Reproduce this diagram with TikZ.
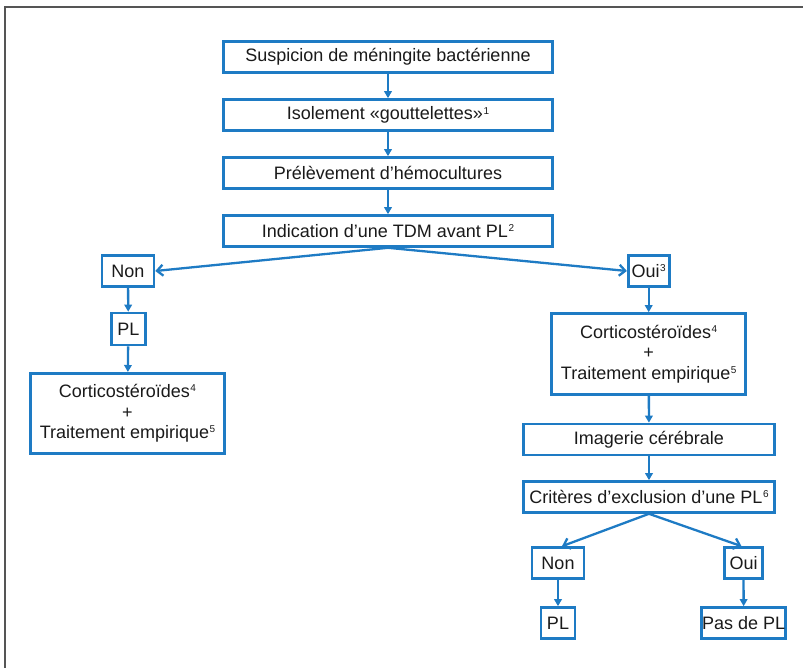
\documentclass[tikz,border=0pt]{standalone}
\usepackage{fontspec}
\setmainfont{Liberation Sans}
\usetikzlibrary{arrows.meta}
\definecolor{fblue}{HTML}{1E7BC4}
\definecolor{ftext}{HTML}{1A1A1A}
\definecolor{fgray}{HTML}{555555}
\newcommand{\sups}[1]{\kern0.5pt\raisebox{5.6pt}{\fontsize{10}{10}\selectfont #1}}
\begin{document}
\begin{tikzpicture}[x=1pt,y=-1pt,
  box/.style={draw=fblue, line width=2.6pt, fill=white, inner sep=0pt, align=center,
              font=\fontsize{18}{20.5}\selectfont, text=ftext},
  arr/.style={draw=fblue, line width=2.3pt, -{Triangle[length=7pt,width=7.5pt]}},
  barb/.style={draw=fblue, line width=2.3pt, -{Straight Barb[length=6pt,width=11pt,line width=2.3pt]}}]
\useasboundingbox (0,0) rectangle (803,668);
\draw[fgray, line width=1.5pt] (5,668) -- (5,7) -- (803,7);

\node[box, minimum width=329pt, minimum height=31pt] (b1) at (388,57) {Suspicion de méningite bactérienne};
\node[box, minimum width=329pt, minimum height=31pt] (b2) at (388,115) {Isolement «gouttelettes»\sups{1}};
\node[box, minimum width=329pt, minimum height=31pt] (b3) at (388,173) {Prélèvement d’hémocultures};
\node[box, minimum width=329pt, minimum height=31pt] (b4) at (388,231) {Indication d’une TDM avant PL\sups{2}};

\node[box, minimum width=52pt, minimum height=31pt] (nonL) at (128,271) {Non};
\node[box, minimum width=41pt, minimum height=31pt] (ouiR) at (648.7,271) {Oui\sups{3}};

\node[box, minimum width=34pt, minimum height=32pt] (plL) at (128.3,329) {PL};
\node[box, minimum width=194pt, minimum height=80pt] (corL) at (127.5,413.3) {Corticostéroïdes\sups{4}\\+\\Traitement empirique\sups{5}};

\node[box, minimum width=194pt, minimum height=81pt] (corR) at (648.7,354) {Corticostéroïdes\sups{4}\\+\\Traitement empirique\sups{5}};
\node[box, minimum width=251pt, minimum height=31pt] (img) at (649,439.5) {Imagerie cérébrale};
\node[box, minimum width=251pt, minimum height=31pt] (crit) at (649,497) {Critères d’exclusion d’une PL\sups{6}};

\node[box, minimum width=52pt, minimum height=31pt] (non2) at (558,563) {Non};
\node[box, minimum width=38pt, minimum height=31pt] (oui2) at (743.5,563) {Oui};
\node[box, minimum width=34pt, minimum height=31pt] (pl2) at (558,623) {PL};
\node[box, minimum width=84pt, minimum height=31pt] (pas) at (743.7,623) {Pas de PL};

\draw[arr] (b1) -- (b2);
\draw[arr] (b2) -- (b3);
\draw[arr] (b3) -- (b4);
\draw[barb] (b4.south) -- (nonL.east);
\draw[barb] (b4.south) -- (ouiR.west);
\draw[arr] (nonL) -- (plL);
\draw[arr] (plL) -- (corL);
\draw[arr] (ouiR) -- (corR);
\draw[arr] (corR) -- (img);
\draw[arr] (img) -- (crit);
\draw[barb] (crit.south) -- ([xshift=4pt]non2.north);
\draw[barb] (crit.south) -- ([xshift=-2pt]oui2.north);
\draw[arr] (non2) -- (pl2);
\draw[arr] (oui2) -- (pas);
\end{tikzpicture}
\end{document}
